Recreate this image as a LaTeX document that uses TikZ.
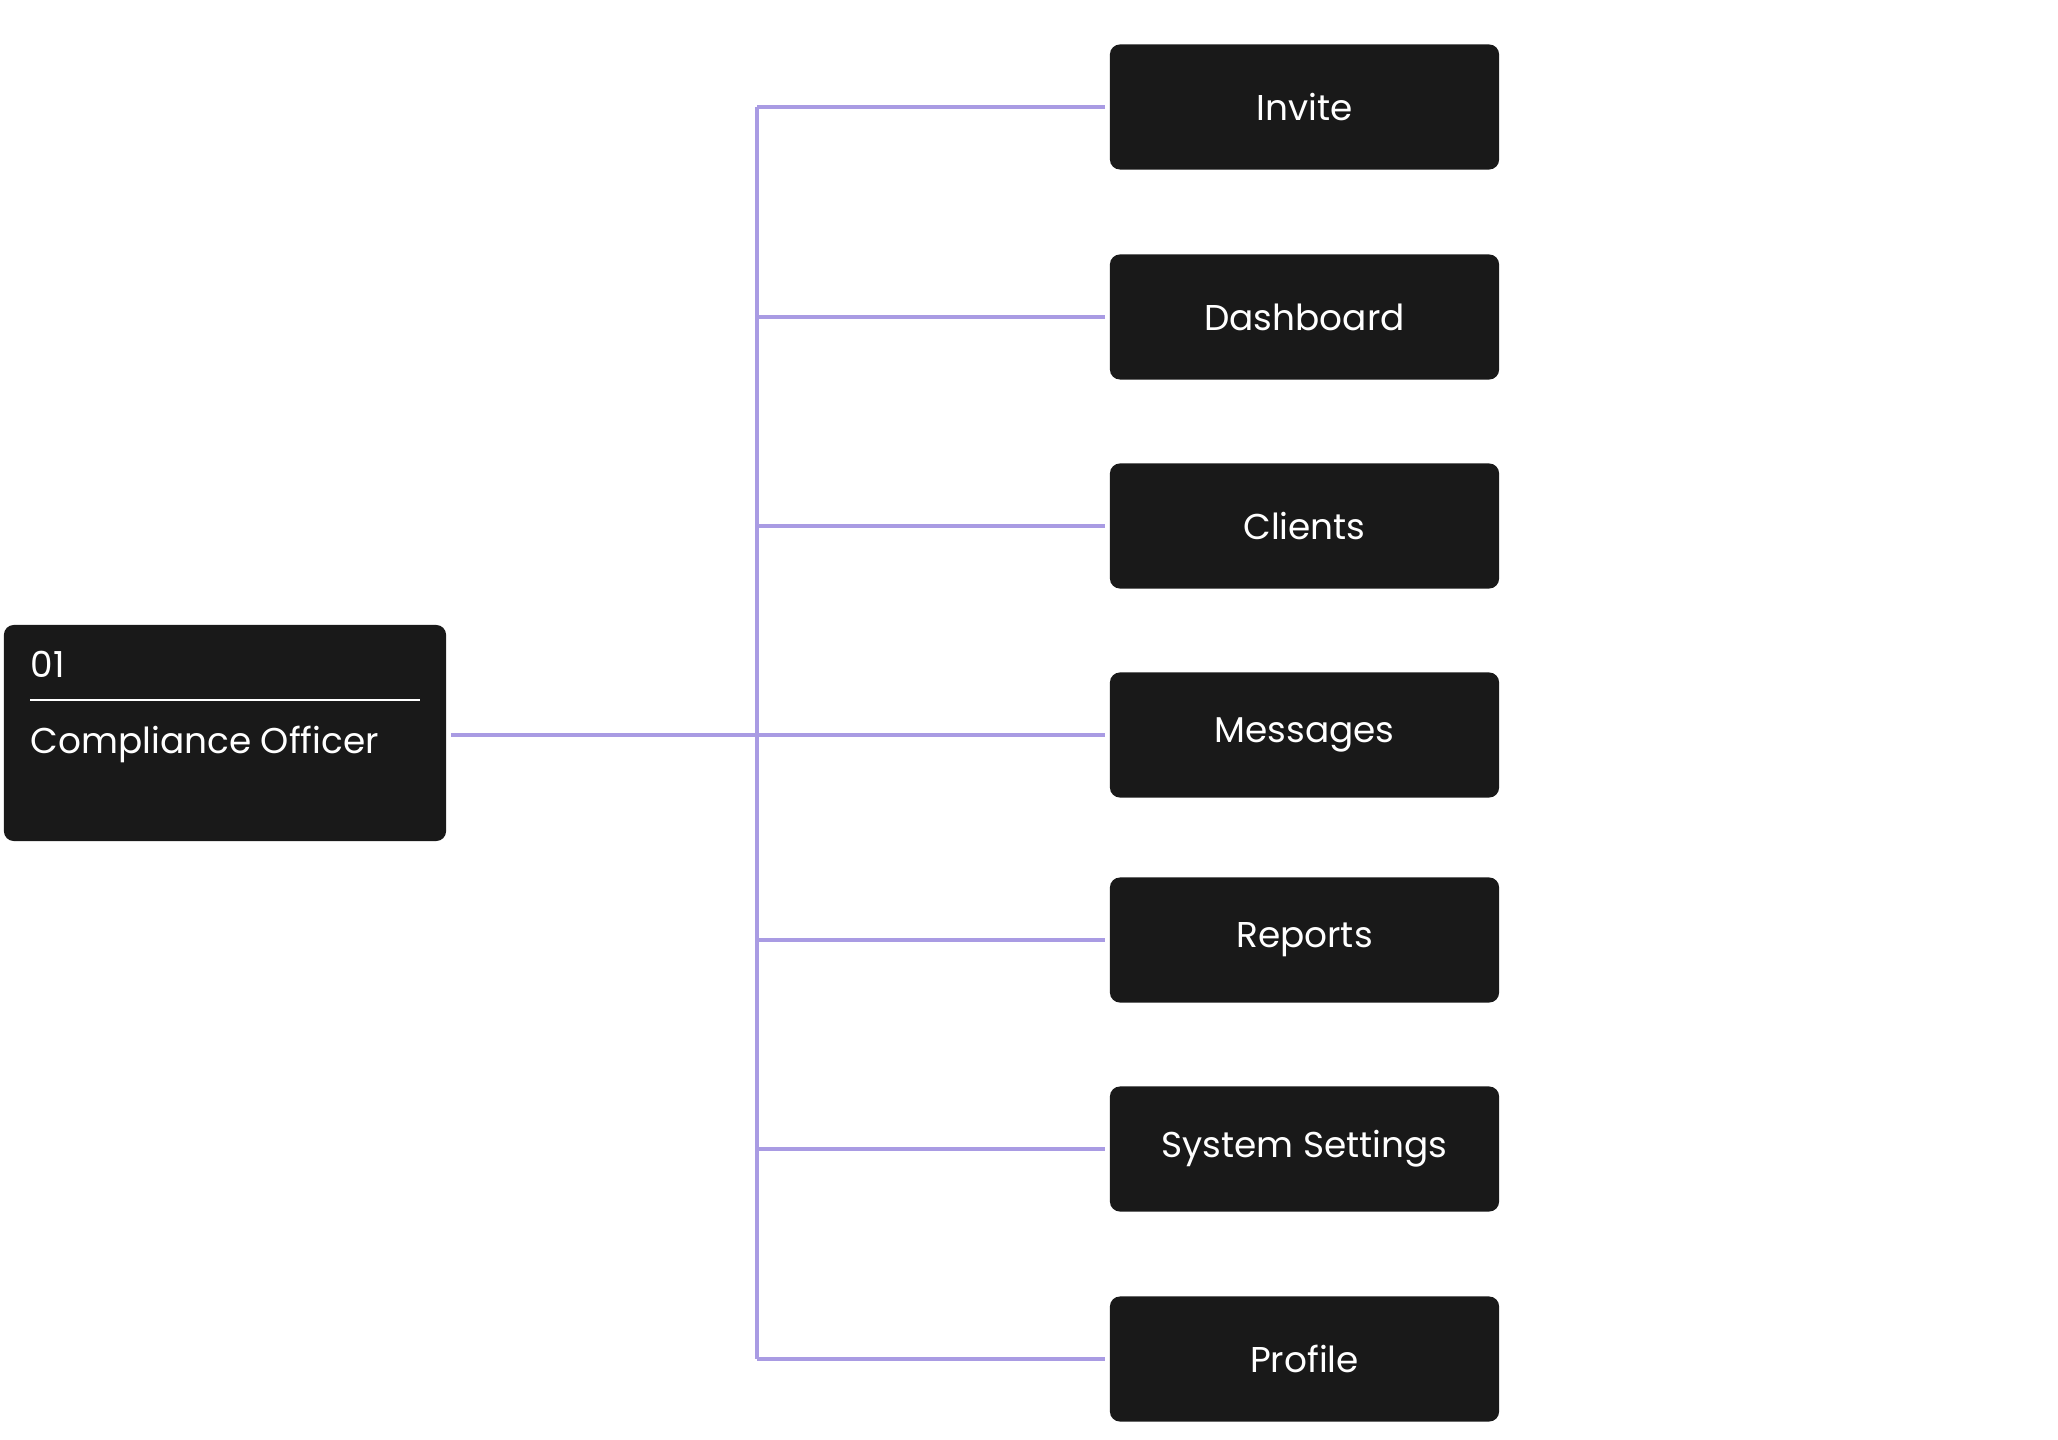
\documentclass[tikz,border=0pt]{standalone}
\usepackage{fontspec}
\setmainfont{Poppins}
\usetikzlibrary{positioning,calc}
\definecolor{boxfill}{HTML}{191919}
\definecolor{linkline}{HTML}{A99BE3}

\begin{document}
\begin{tikzpicture}[x=0.01cm,y=-0.01cm,
  menubox/.style={draw=none,fill=boxfill,rounded corners=0.1cm,
    minimum width=3.89cm,minimum height=1.25cm,text=white,
    font=\fontsize{10.2}{12}\selectfont},
  rolelabel/.style={anchor=base west,inner sep=0pt,text=white,
    font=\fontsize{10.2}{12}\selectfont},
  link/.style={linkline,line width=0.9pt}]
  % canvas of the reference (pixels)
  \useasboundingbox (0,0) rectangle (2058,1440);

  % role box on the left
  \node[menubox,minimum width=4.42cm,minimum height=2.16cm] (officer) at (225,733) {};
  \node[rolelabel] (num) at (30,677) {01};
  \draw[white,line width=0.8pt] (30,700) -- (420,700);
  \node[rolelabel] (role) at (30,753) {Compliance Officer};

  % menu entries on the right
  \foreach \name/\label/\ypos in {invite/Invite/107,dashboard/Dashboard/317,
      clients/Clients/526,messages/Messages/735,reports/Reports/940,
      settings/System Settings/1149,profile/Profile/1359}
    \node[menubox] (\name) at (1304.5,\ypos) {\label};

  % trunk and branches
  \coordinate (trunk) at (757,735);
  \draw[link,shorten <=0.04cm] (officer.east |- trunk) -- (trunk);
  \draw[link] (trunk |- invite.west) -- (trunk |- profile.west);
  \foreach \name in {invite,dashboard,clients,messages,reports,settings,profile}
    \draw[link,shorten >=0.04cm] (trunk |- \name.west) -- (\name.west);

\end{tikzpicture}
\end{document}
